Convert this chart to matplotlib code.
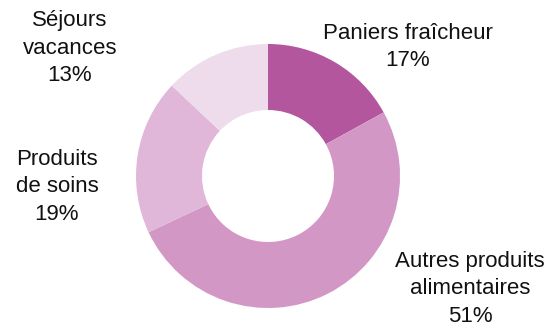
import matplotlib.pyplot as plt

labels = ['Paniers fraîcheur', 'Autres produits\nalimentaires', 'Produits\nde soins', 'Séjours\nvacances']
shares = [17, 51, 19, 13]
colors = ['#b3569e', '#d397c5', '#e0b7d9', '#eedbeb']

# label centres in pixels (x from left, y from top)
label_pos = [(408, 47), (470, 289), (57, 187), (70, 48)]

plt.rcParams['font.family'] = ['Liberation Sans', 'DejaVu Sans']

W, H = 555, 324
fig = plt.figure(figsize=(W / 100, H / 100), dpi=100)
ax = fig.add_axes([136 / W, 16 / H, 264 / W, 264 / H])
ax.pie(shares, colors=colors, startangle=90, counterclock=False,
       radius=1, wedgeprops=dict(width=0.5, edgecolor='none'))
ax.set_xlim(-1, 1)
ax.set_ylim(-1, 1)
ax.set_aspect('equal')
ax.axis('off')

for lab, val, (px, py) in zip(labels, shares, label_pos):
    fig.text(px / W, 1 - py / H, f'{lab}\n{val}%', ha='center', va='center',
             fontsize=16, linespacing=1.4, color='#111111')

fig.savefig('out.png', dpi=100)
